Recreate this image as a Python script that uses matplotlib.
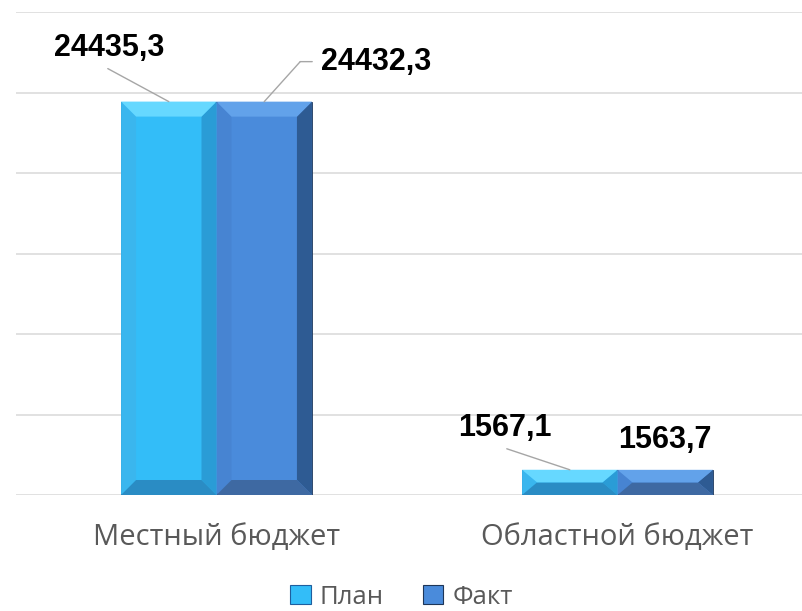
import matplotlib
matplotlib.use("Agg")
import matplotlib.pyplot as plt
from matplotlib.patches import Polygon, Patch
from matplotlib.transforms import offset_copy
import numpy as np

categories = ["Местный бюджет", "Областной бюджет"]
series_names = ["План", "Факт"]
plan_values = [24435.3, 1567.1]
fact_values = [24432.3, 1563.7]
plan_labels = ["24435,3", "1567,1"]
fact_labels = ["24432,3", "1563,7"]

W, H = 803, 611
fig = plt.figure(figsize=(W / 100, H / 100), dpi=100)
ax_left, ax_right = 16 / W, 818 / W
ax_bot, ax_top = (H - 495) / H, (H - 12) / H
ax = fig.add_axes([ax_left, ax_bot, ax_right - ax_left, ax_top - ax_bot])

ymax = 30000
ax.set_xlim(-0.5, 1.5)
ax.set_ylim(0, ymax)
ax.set_yticks(np.arange(0, ymax + 1, 5000))
ax.yaxis.grid(True, color="#D9D9D9", linewidth=1.1)
ax.set_axisbelow(True)
for s in ax.spines.values():
    s.set_visible(False)
ax.tick_params(axis="y", length=0, labelleft=False)
ax.tick_params(axis="x", length=0, pad=20)

x = np.arange(len(categories))
bw = 0.238

styles = {
    "План": dict(face="#33BDF8", top="#66D8FF", left="#3AB6EE", right="#2A9CD6", bottom="#2A8CC4", edge="#1F5E9E"),
    "Факт": dict(face="#4A8BDB", top="#62A2EA", left="#4784D2", right="#2E5B93", bottom="#3E69A2", edge="#1E3658"),
}

px_per_x = (ax_right - ax_left) * W / 2.0
px_per_y = (ax_top - ax_bot) * H / ymax
bev_px = 15


def bevel_bar(xc, val, st):
    x0, x1 = xc - bw / 2, xc + bw / 2
    y0, y1 = 0, val
    bx = min(bev_px / px_per_x, (x1 - x0) / 2)
    by = min(bev_px / px_per_y, (y1 - y0) / 2)
    polys = [
        ([(x0, y0), (x0 + bx, y0 + by), (x0 + bx, y1 - by), (x0, y1)], st["left"]),
        ([(x1, y0), (x1 - bx, y0 + by), (x1 - bx, y1 - by), (x1, y1)], st["right"]),
        ([(x0, y0), (x1, y0), (x1 - bx, y0 + by), (x0 + bx, y0 + by)], st["bottom"]),
        ([(x0, y1), (x1, y1), (x1 - bx, y1 - by), (x0 + bx, y1 - by)], st["top"]),
    ]
    for pts, c in polys:
        ax.add_patch(Polygon(pts, closed=True, facecolor=c, edgecolor="none", zorder=3))


bars_p = ax.bar(x - bw / 2, plan_values, bw, color=styles["План"]["face"],
                edgecolor=styles["План"]["edge"], linewidth=0.6, zorder=2)
bars_f = ax.bar(x + bw / 2, fact_values, bw, color=styles["Факт"]["face"],
                edgecolor=styles["Факт"]["edge"], linewidth=0.6, zorder=2)
for xi, v in zip(x, plan_values):
    bevel_bar(xi - bw / 2, v, styles["План"])
for xi, v in zip(x, fact_values):
    bevel_bar(xi + bw / 2, v, styles["Факт"])

ax.set_xticks(x)
ax.set_xticklabels(categories, fontsize=21, color="#595959", family=["Open Sans", "DejaVu Sans"])

k = 0.72  # px -> points
lbl_font = dict(fontsize=22, fontweight="bold", family=["Liberation Sans", "DejaVu Sans"],
                color="black", ha="center", va="center", zorder=6)
line_kw = dict(arrowstyle="-", color="#A6A6A6", lw=1.0, shrinkA=0, shrinkB=0)

plan_text_off = [(-60, 54), (-65, 42)]
plan_lead_off = [(-61, 33), (-63, 21)]
fact_text_off = [(112, 40), (0, 30)]
fact_lead_off = [[(36, 40), (48, 40)], []]

for i in range(len(categories)):
    xp, vp = x[i] - bw / 2, plan_values[i]
    ax.annotate(plan_labels[i], xy=(xp, vp), xytext=(plan_text_off[i][0] * k, plan_text_off[i][1] * k),
                textcoords="offset points", **lbl_font)
    ax.annotate("", xy=(xp, vp), xytext=(plan_lead_off[i][0] * k, plan_lead_off[i][1] * k),
                textcoords="offset points", arrowprops=line_kw, zorder=5)

    xf, vf = x[i] + bw / 2, fact_values[i]
    ax.annotate(fact_labels[i], xy=(xf, vf), xytext=(fact_text_off[i][0] * k, fact_text_off[i][1] * k),
                textcoords="offset points", **lbl_font)
    pts = fact_lead_off[i]
    if pts:
        ax.annotate("", xy=(xf, vf), xytext=(pts[0][0] * k, pts[0][1] * k),
                    textcoords="offset points", arrowprops=line_kw, zorder=5)
        tr = offset_copy(ax.transData, fig=fig, x=pts[0][0], y=pts[0][1], units="dots")
        ax.annotate("", xy=(xf, vf), xycoords=tr,
                    xytext=((pts[1][0] - pts[0][0]) * k, (pts[1][1] - pts[0][1]) * k),
                    textcoords="offset points", arrowprops=line_kw, zorder=5)

handles = [Patch(facecolor=styles[n]["face"], edgecolor=styles[n]["edge"], linewidth=0.8) for n in series_names]
leg = fig.legend(handles, series_names, loc="center", bbox_to_anchor=(0.5, 1 - 597 / H),
                 ncol=2, frameon=False, handlelength=0.8, handleheight=0.8,
                 handletextpad=0.35, columnspacing=1.5,
                 prop=dict(family=["Open Sans", "DejaVu Sans"], size=18.5))
for t in leg.get_texts():
    t.set_color("#595959")

fig.savefig("out.png", dpi=100)
